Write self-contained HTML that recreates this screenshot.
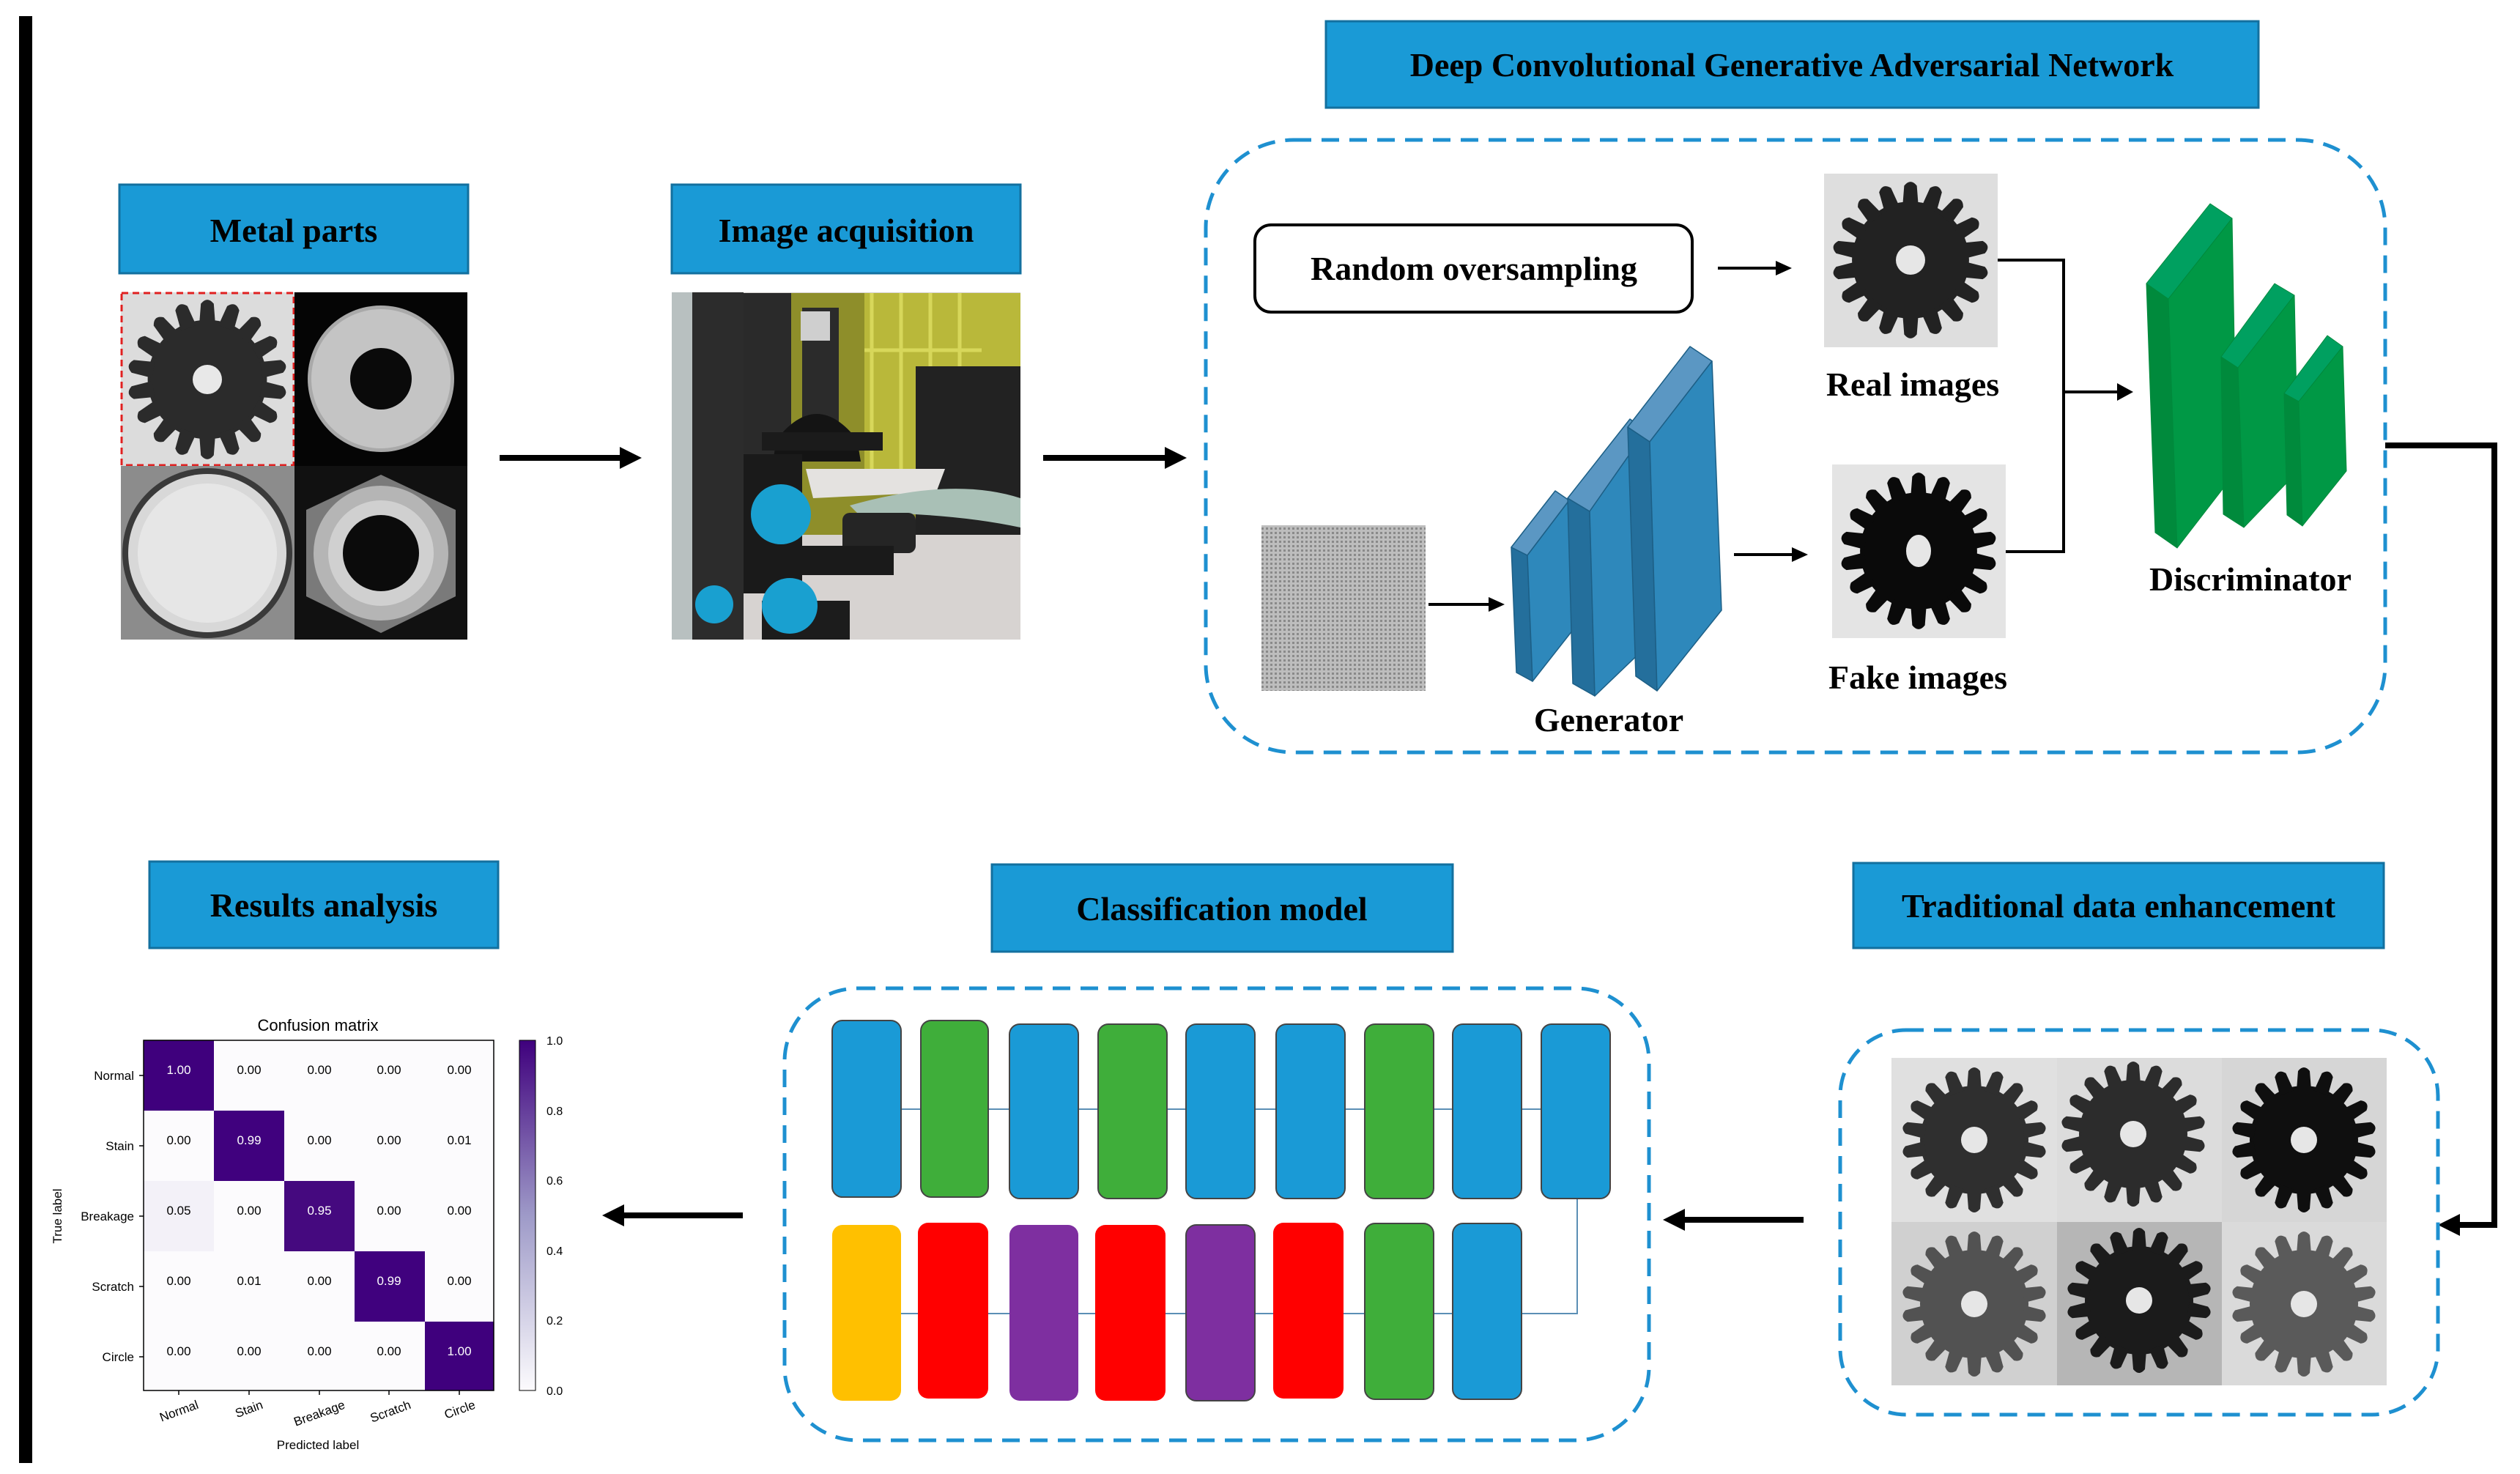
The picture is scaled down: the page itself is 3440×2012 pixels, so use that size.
<!DOCTYPE html>
<html><head><meta charset="utf-8"><style>
html,body{margin:0;padding:0;background:#fff;}
svg{display:block;}
.t{font-family:"Liberation Serif",serif;font-weight:bold;fill:#000;}
.s{font-family:"Liberation Sans",sans-serif;fill:#000;}
</style></head><body>
<svg width="3440" height="2012" viewBox="0 0 3440 2012" xmlns="http://www.w3.org/2000/svg">
<defs>
<g id="tooth"><path d="M-10,-68 L-8,-94 Q0,-104 8,-94 L10,-68 Z"/></g>
<g id="gear">
<circle r="74"/>
<use href="#tooth"/><use href="#tooth" transform="rotate(20)"/><use href="#tooth" transform="rotate(40)"/><use href="#tooth" transform="rotate(60)"/>
<use href="#tooth" transform="rotate(80)"/><use href="#tooth" transform="rotate(100)"/><use href="#tooth" transform="rotate(120)"/><use href="#tooth" transform="rotate(140)"/>
<use href="#tooth" transform="rotate(160)"/><use href="#tooth" transform="rotate(180)"/><use href="#tooth" transform="rotate(200)"/><use href="#tooth" transform="rotate(220)"/>
<use href="#tooth" transform="rotate(240)"/><use href="#tooth" transform="rotate(260)"/><use href="#tooth" transform="rotate(280)"/><use href="#tooth" transform="rotate(300)"/>
<use href="#tooth" transform="rotate(320)"/><use href="#tooth" transform="rotate(340)"/>
</g>
<pattern id="noise" width="6" height="6" patternUnits="userSpaceOnUse"><rect width="6" height="6" fill="#bdbdbd"/><rect width="3" height="3" fill="#8a8a8a"/></pattern>
<linearGradient id="cb" x1="0" y1="1" x2="0" y2="0"><stop offset="0" stop-color="#fcfbfd"/><stop offset="0.5" stop-color="#9e9ac8"/><stop offset="1" stop-color="#3f007d"/></linearGradient>
</defs>

<rect x="26" y="22" width="18" height="1975" fill="#000"/>

<g fill="#1a9ad6" stroke="#13709f" stroke-width="3">
<rect x="163" y="252" width="476" height="121"/>
<rect x="917" y="252" width="476" height="121"/>
<rect x="1810" y="29" width="1273" height="118"/>
<rect x="2530" y="1178" width="724" height="116"/>
<rect x="1354" y="1180" width="629" height="119"/>
<rect x="204" y="1176" width="476" height="118"/>
</g>
<g class="t" font-size="46" text-anchor="middle">
<text x="401" y="330">Metal parts</text>
<text x="1155" y="330">Image acquisition</text>
<text x="2446" y="104">Deep Convolutional Generative Adversarial Network</text>
<text x="2892" y="1252">Traditional data enhancement</text>
<text x="1668" y="1256">Classification model</text>
<text x="442" y="1251">Results analysis</text>
</g>

<!-- Metal parts grid -->
<rect x="165" y="399" width="237" height="237" fill="#dcdcdc"/>
<use href="#gear" fill="#2b2b2b" transform="translate(283,518) scale(1.1)"/>
<circle cx="283" cy="518" r="20" fill="#e8e8e8"/>
<rect x="166" y="400" width="235" height="235" fill="none" stroke="#e02020" stroke-width="3" stroke-dasharray="9,6"/>
<rect x="402" y="399" width="236" height="237" fill="#050505"/>
<circle cx="520" cy="517" r="100" fill="#a9a9a9"/><circle cx="520" cy="517" r="95" fill="#c4c4c4"/>
<circle cx="520" cy="517" r="42" fill="#0a0a0a"/>
<rect x="165" y="636" width="237" height="237" fill="#8c8c8c"/>
<circle cx="283" cy="755" r="116" fill="#3a3a3a"/>
<circle cx="283" cy="755" r="108" fill="#d8d8d8"/>
<circle cx="283" cy="755" r="95" fill="#e6e6e6"/>
<rect x="402" y="636" width="236" height="237" fill="#111"/>
<polygon points="520,648 622,696 622,814 520,864 418,814 418,696" fill="#7a7a7a"/>
<circle cx="520" cy="755" r="92" fill="#b5b5b5"/>
<circle cx="520" cy="755" r="72" fill="#d0d0d0"/>
<circle cx="520" cy="755" r="52" fill="#0b0b0b"/>

<!-- Photo -->
<rect x="917" y="399" width="476" height="474" fill="#d7d3d1"/>
<rect x="1005" y="400" width="388" height="330" fill="#8e8e2a"/>
<rect x="1180" y="400" width="213" height="240" fill="#b9b83a"/>
<g stroke="#d7d75a" stroke-width="5">
<line x1="1190" y1="400" x2="1190" y2="640"/><line x1="1230" y1="400" x2="1230" y2="640"/><line x1="1270" y1="400" x2="1270" y2="640"/><line x1="1310" y1="400" x2="1310" y2="640"/><line x1="1180" y1="478" x2="1340" y2="478"/>
</g>
<rect x="1250" y="500" width="143" height="230" fill="#222"/>
<rect x="1010" y="400" width="70" height="230" fill="#2a2a2a"/>
<rect x="1095" y="420" width="50" height="160" fill="#2b2b2b"/>
<rect x="1093" y="425" width="40" height="40" fill="#cfcfcf"/>
<path d="M1060,600 Q1115,530 1170,600 L1175,630 L1055,630 Z" fill="#141414"/>
<rect x="1040" y="590" width="165" height="25" fill="#1b1b1b"/>
<rect x="945" y="399" width="70" height="474" fill="#2c2c2c"/>
<rect x="917" y="399" width="28" height="474" fill="#b8c0c0"/>
<rect x="1015" y="620" width="80" height="190" fill="#1a1a1a"/>
<polygon points="1100,640 1290,640 1278,672 1110,680" fill="#e4e2e0"/>
<path d="M1160,690 Q1300,650 1393,680 L1393,720 Q1300,700 1170,700 Z" fill="#a9c0b6"/>
<rect x="1150" y="700" width="100" height="55" rx="10" fill="#252525"/>
<rect x="1020" y="745" width="200" height="40" fill="#1a1a1a"/>
<rect x="1040" y="820" width="120" height="53" fill="#1c1c1c"/>
<circle cx="1066" cy="702" r="41" fill="#19a0d0"/>
<circle cx="1078" cy="827" r="38" fill="#19a0d0"/>
<circle cx="975" cy="825" r="26" fill="#19a0d0"/>

<!-- big arrows -->
<g stroke="#000" stroke-width="8" fill="none">
<line x1="682" y1="625" x2="850" y2="625"/>
<line x1="1424" y1="625" x2="1594" y2="625"/>
<line x1="2462" y1="1665" x2="2296" y2="1665"/>
<line x1="1014" y1="1659" x2="848" y2="1659"/>
<polyline points="3256,608 3405,608 3405,1672 3352,1672"/>
</g>
<g fill="#000">
<polygon points="876,625 846,610 846,640"/>
<polygon points="1620,625 1590,610 1590,640"/>
<polygon points="2270,1665 2300,1650 2300,1680"/>
<polygon points="822,1659 852,1644 852,1674"/>
<polygon points="3328,1672 3358,1657 3358,1687"/>
</g>

<g fill="none" stroke="#1e90d0" stroke-width="5" stroke-dasharray="24,14">
<rect x="1646" y="191" width="1610" height="836" rx="120"/>
<rect x="2512" y="1406" width="816" height="525" rx="90"/>
<rect x="1071" y="1349" width="1180" height="617" rx="100"/>
</g>

<!-- DCGAN contents -->
<rect x="1713" y="307" width="597" height="119" rx="22" fill="#fff" stroke="#000" stroke-width="4"/>
<text class="t" x="2012" y="382" font-size="46" text-anchor="middle">Random oversampling</text>
<g stroke="#000" stroke-width="4" fill="none">
<line x1="2345" y1="366" x2="2430" y2="366"/>
<line x1="1950" y1="825" x2="2038" y2="825"/>
<line x1="2367" y1="757" x2="2452" y2="757"/>
<polyline points="2727,355 2817,355 2817,753 2738,753"/>
<line x1="2817" y1="535" x2="2895" y2="535"/>
</g>
<g fill="#000">
<polygon points="2446,366 2424,356 2424,376"/>
<polygon points="2054,825 2032,815 2032,835"/>
<polygon points="2468,757 2446,747 2446,767"/>
<polygon points="2912,535 2890,523 2890,547"/>
</g>
<rect x="2490" y="237" width="237" height="237" fill="#dedede"/>
<use href="#gear" fill="#222" transform="translate(2608,355) scale(1.08)"/>
<circle cx="2608" cy="355" r="20" fill="#e6e6e6"/>
<rect x="2501" y="634" width="237" height="237" fill="#e4e4e4"/>
<use href="#gear" fill="#0a0a0a" transform="translate(2619,752) scale(1.08)"/>
<ellipse cx="2619" cy="752" rx="17" ry="22" fill="#e6e6e6"/>
<g class="t" font-size="46" text-anchor="middle">
<text x="2611" y="540">Real images</text>
<text x="2618" y="940">Fake images</text>
<text x="2196" y="998">Generator</text>
<text x="3072" y="806">Discriminator</text>
</g>
<rect x="1722" y="717" width="224" height="226" fill="url(#noise)"/>

<!-- Generator slabs -->
<g stroke="#1d5f86" stroke-width="1.5" stroke-linejoin="round">
<polygon points="2063,747 2085,758 2092,930 2070,918" fill="#246f9c"/>
<polygon points="2063,747 2123,670 2142,683 2085,758" fill="#5b97c3"/>
<polygon points="2085,758 2142,683 2147,860 2092,930" fill="#2e88bb"/>
<polygon points="2140,680 2170,698 2177,950 2147,933" fill="#246f9c"/>
<polygon points="2140,680 2225,572 2247,588 2170,698" fill="#5b97c3"/>
<polygon points="2170,698 2247,588 2250,880 2177,950" fill="#2e88bb"/>
<polygon points="2222,583 2252,603 2262,943 2233,923" fill="#246f9c"/>
<polygon points="2222,583 2307,473 2337,493 2252,603" fill="#5b97c3"/>
<polygon points="2252,603 2337,493 2350,833 2262,943" fill="#2e88bb"/>
</g>

<!-- Discriminator slabs -->
<g stroke="#00893c" stroke-width="1" stroke-linejoin="round">
<polygon points="2930,387 2960,408 2972,748 2942,727" fill="#008a3c"/>
<polygon points="2930,387 3017,278 3047,298 2960,408" fill="#00a060"/>
<polygon points="2960,408 3047,298 3053,643 2972,748" fill="#009845"/>
<polygon points="3032,487 3055,502 3063,720 3035,702" fill="#008a3c"/>
<polygon points="3032,487 3105,387 3132,403 3055,502" fill="#00a060"/>
<polygon points="3055,502 3132,403 3137,643 3063,720" fill="#009845"/>
<polygon points="3118,537 3138,548 3143,718 3122,703" fill="#008a3c"/>
<polygon points="3118,537 3177,458 3198,473 3138,548" fill="#00a060"/>
<polygon points="3138,548 3198,473 3203,643 3143,718" fill="#009845"/>
</g>

<!-- Traditional enhancement gears -->
<rect x="2582" y="1444" width="226" height="224" fill="#e0e0e0"/>
<rect x="2808" y="1444" width="225" height="224" fill="#dcdcdc"/>
<rect x="3033" y="1444" width="225" height="224" fill="#d6d6d6"/>
<rect x="2582" y="1668" width="226" height="223" fill="#d0d0d0"/>
<rect x="2808" y="1668" width="225" height="223" fill="#b6b6b6"/>
<rect x="3033" y="1668" width="225" height="223" fill="#dadada"/>
<use href="#gear" fill="#2f2f2f" transform="translate(2695,1556)"/>
<use href="#gear" fill="#2c2c2c" transform="translate(2912,1548)"/>
<use href="#gear" fill="#0f0f0f" transform="translate(3145,1556)"/>
<use href="#gear" fill="#525252" transform="translate(2695,1780)"/>
<use href="#gear" fill="#1b1b1b" transform="translate(2920,1775)"/>
<use href="#gear" fill="#5a5a5a" transform="translate(3145,1780)"/>
<g fill="#e6e6e6">
<circle cx="2695" cy="1556" r="18"/><circle cx="2912" cy="1548" r="18"/><circle cx="3145" cy="1556" r="18"/>
<circle cx="2695" cy="1780" r="18"/><circle cx="2920" cy="1775" r="18"/><circle cx="3145" cy="1780" r="18"/>
</g>

<!-- Classification model blocks -->
<g stroke="#5b8fb5" stroke-width="2" fill="none">
<line x1="1183" y1="1514" x2="2150" y2="1514"/>
<line x1="1183" y1="1793" x2="2090" y2="1793"/>
<polyline points="2153,1635 2153,1793 2090,1793"/>
</g>
<g stroke="#444" stroke-width="2">
<rect x="1136" y="1393" width="94" height="241" rx="14" fill="#1a9ad6"/>
<rect x="1257" y="1393" width="92" height="241" rx="14" fill="#3fae3a"/>
<rect x="1378" y="1398" width="94" height="238" rx="14" fill="#1a9ad6"/>
<rect x="1499" y="1398" width="94" height="238" rx="14" fill="#3fae3a"/>
<rect x="1619" y="1398" width="94" height="238" rx="14" fill="#1a9ad6"/>
<rect x="1742" y="1398" width="94" height="238" rx="14" fill="#1a9ad6"/>
<rect x="1863" y="1398" width="94" height="238" rx="14" fill="#3fae3a"/>
<rect x="1983" y="1398" width="94" height="238" rx="14" fill="#1a9ad6"/>
<rect x="2104" y="1398" width="94" height="238" rx="14" fill="#1a9ad6"/>
<rect x="1136" y="1672" width="94" height="240" rx="14" fill="#ffc000" stroke="none"/>
<rect x="1253" y="1669" width="96" height="240" rx="14" fill="#ff0000" stroke="none"/>
<rect x="1378" y="1672" width="94" height="240" rx="14" fill="#7e2fa0" stroke="none"/>
<rect x="1495" y="1672" width="96" height="240" rx="14" fill="#ff0000" stroke="none"/>
<rect x="1619" y="1672" width="94" height="240" rx="14" fill="#7e2fa0"/>
<rect x="1738" y="1669" width="96" height="240" rx="14" fill="#ff0000" stroke="none"/>
<rect x="1863" y="1670" width="94" height="240" rx="14" fill="#3fae3a"/>
<rect x="1983" y="1670" width="94" height="240" rx="14" fill="#1a9ad6"/>
</g>

<!-- Confusion matrix -->
<text class="s" x="434" y="1407" font-size="22" text-anchor="middle">Confusion matrix</text>
<g transform="translate(196,1420)">
<rect width="478" height="478" fill="#fcfbfd"/>
<rect x="0" y="0" width="96" height="96" fill="#3f007d"/>
<rect x="96" y="96" width="96" height="96" fill="#40017e"/>
<rect x="192" y="192" width="96" height="96" fill="#45097f"/>
<rect x="288" y="288" width="96" height="96" fill="#40017e"/>
<rect x="384" y="384" width="94" height="94" fill="#3f007d"/>
<rect x="0" y="192" width="96" height="96" fill="#f3f1f8"/>
<rect width="478" height="478" fill="none" stroke="#000" stroke-width="1.5"/>
</g>
<g class="s" font-size="17" text-anchor="middle">
<text x="244" y="1466" fill="#fff">1.00</text><text x="340" y="1466">0.00</text><text x="436" y="1466">0.00</text><text x="531" y="1466">0.00</text><text x="627" y="1466">0.00</text>
<text x="244" y="1562">0.00</text><text x="340" y="1562" fill="#fff">0.99</text><text x="436" y="1562">0.00</text><text x="531" y="1562">0.00</text><text x="627" y="1562">0.01</text>
<text x="244" y="1658">0.05</text><text x="340" y="1658">0.00</text><text x="436" y="1658" fill="#fff">0.95</text><text x="531" y="1658">0.00</text><text x="627" y="1658">0.00</text>
<text x="244" y="1754">0.00</text><text x="340" y="1754">0.01</text><text x="436" y="1754">0.00</text><text x="531" y="1754" fill="#fff">0.99</text><text x="627" y="1754">0.00</text>
<text x="244" y="1850">0.00</text><text x="340" y="1850">0.00</text><text x="436" y="1850">0.00</text><text x="531" y="1850">0.00</text><text x="627" y="1850" fill="#fff">1.00</text>
</g>
<g class="s" font-size="17" text-anchor="end">
<text x="183" y="1474">Normal</text><text x="183" y="1570">Stain</text><text x="183" y="1666">Breakage</text><text x="183" y="1762">Scratch</text><text x="183" y="1858">Circle</text>
</g>
<g stroke="#000" stroke-width="1.5">
<line x1="190" y1="1468" x2="196" y2="1468"/><line x1="190" y1="1564" x2="196" y2="1564"/><line x1="190" y1="1660" x2="196" y2="1660"/><line x1="190" y1="1756" x2="196" y2="1756"/><line x1="190" y1="1852" x2="196" y2="1852"/>
<line x1="244" y1="1898" x2="244" y2="1904"/><line x1="340" y1="1898" x2="340" y2="1904"/><line x1="436" y1="1898" x2="436" y2="1904"/><line x1="531" y1="1898" x2="531" y2="1904"/><line x1="627" y1="1898" x2="627" y2="1904"/>
</g>
<g class="s" font-size="17" text-anchor="end">
<text transform="translate(272,1922) rotate(-20)">Normal</text>
<text transform="translate(360,1922) rotate(-20)">Stain</text>
<text transform="translate(472,1922) rotate(-20)">Breakage</text>
<text transform="translate(562,1922) rotate(-20)">Scratch</text>
<text transform="translate(650,1922) rotate(-20)">Circle</text>
</g>
<text class="s" x="434" y="1978" font-size="17" text-anchor="middle">Predicted label</text>
<text class="s" transform="translate(84,1660) rotate(-90)" font-size="17" text-anchor="middle">True label</text>
<rect x="709" y="1420" width="22" height="478" fill="url(#cb)" stroke="#000" stroke-width="1"/>
<g class="s" font-size="16">
<text x="746" y="1426">1.0</text><text x="746" y="1522">0.8</text><text x="746" y="1617">0.6</text><text x="746" y="1713">0.4</text><text x="746" y="1808">0.2</text><text x="746" y="1904">0.0</text>
</g>
</svg>
</body></html>
